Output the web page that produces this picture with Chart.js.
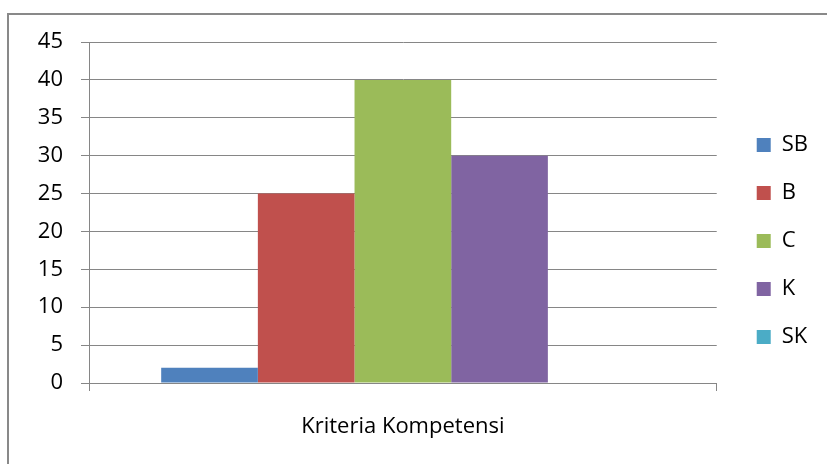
<!DOCTYPE html>
<html>
<head>
<meta charset="utf-8">
<script src="https://cdn.jsdelivr.net/npm/chart.js@4/dist/chart.umd.min.js"></script>
<style>
  html, body { margin: 0; padding: 0; background: #fff; overflow: hidden; }
  #frame {
    position: absolute; left: 7px; top: 13px;
    width: 900px; height: 500px;
    border: 2px solid #898989;
  }
  #chart { position: absolute; left: 0; top: 0; }
</style>
</head>
<body>
<div id="frame"></div>
<canvas id="chart" width="827" height="464"></canvas>
<script>
// chart data
const categories = ['Kriteria Kompetensi'];
const seriesNames = ['SB', 'B', 'C', 'K', 'SK'];
const seriesValues = [2, 25, 40, 30, 0];
const yTicks = [0, 5, 10, 15, 20, 25, 30, 35, 40, 45];

// Office 2007 palette
const seriesColors = ['#4f81bd', '#c0504d', '#9bbb59', '#8064a2', '#4bacc6'];
const gridColor = '#868686';
const fontFamily = '"Open Sans", Lato, sans-serif';

const datasets = seriesNames.map((name, i) => ({
  label: name,
  data: [seriesValues[i]],
  backgroundColor: seriesColors[i],
  borderWidth: 0,
  categoryPercentage: 0.77,
  barPercentage: 1.0
}));

new Chart(document.getElementById('chart'), {
  type: 'bar',
  data: { labels: categories, datasets: datasets },
  options: {
    responsive: false,
    animation: false,
    layout: { padding: { top: 42, left: 0, right: 9, bottom: 24 } },
    plugins: {
      tooltip: { enabled: false },
      legend: {
        position: 'right',
        align: 'center',
        labels: {
          boxWidth: 14,
          boxHeight: 14,
          padding: 26,
          color: '#000',
          font: { family: fontFamily, size: 22 }
        }
      }
    },
    scales: {
      x: {
        grid: {
          display: true,
          drawOnChartArea: false,
          offset: true,
          tickLength: 8,
          color: gridColor
        },
        border: { color: gridColor },
        ticks: {
          color: '#000',
          padding: 23,
          font: { family: fontFamily, size: 22 }
        },
        afterFit: (scale) => { scale.height = 57; }
      },
      y: {
        min: 0,
        max: 45,
        afterBuildTicks: (scale) => { scale.ticks = yTicks.map(v => ({ value: v })); },
        grid: { color: gridColor, tickLength: 8 },
        border: { color: gridColor },
        ticks: {
          color: '#000',
          padding: 18,
          font: { family: fontFamily, size: 22 }
        },
        afterFit: (scale) => { scale.width = 89; }
      },
      // empty axis only to leave room between plot and legend
      gap: {
        type: 'linear',
        position: 'right',
        display: true,
        grid: { display: false },
        border: { display: false },
        ticks: { display: false },
        afterFit: (scale) => { scale.width = 14; }
      }
    }
  }
});
</script>
</body>
</html>
